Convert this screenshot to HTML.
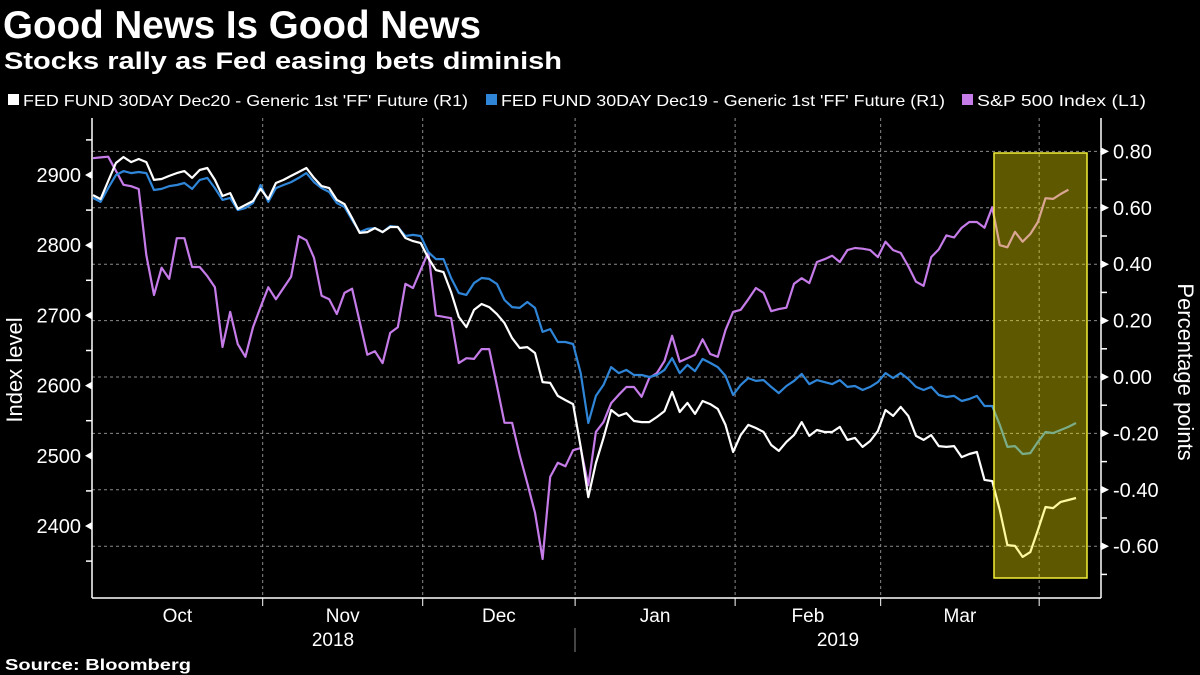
<!DOCTYPE html>
<html><head><meta charset="utf-8">
<style>
html,body{margin:0;padding:0;background:#000;}
svg{display:block;}
text{font-family:"Liberation Sans",sans-serif;fill:#fff;}
</style></head>
<body>
<svg id="chart" width="1200" height="675" viewBox="0 0 1200 675">
<rect width="1200" height="675" fill="#000"/>
<text x="3" y="38" font-size="39" font-weight="bold" textLength="478" lengthAdjust="spacingAndGlyphs">Good News Is Good News</text>
<text x="4" y="69" font-size="24" font-weight="bold" textLength="558" lengthAdjust="spacingAndGlyphs">Stocks rally as Fed easing bets diminish</text>
<g id="legend"></g>
<g id="grid"></g>
<g id="axes"></g>
<g id="series"></g>
<rect x="994" y="153" width="93" height="425" fill="rgba(255,242,0,0.37)" stroke="#f4f03a" stroke-width="1.5"/>
<text transform="translate(22,370) rotate(-90)" text-anchor="middle" font-size="22">Index level</text>
<text transform="translate(1178,372) rotate(90)" text-anchor="middle" font-size="22">Percentage points</text>
<text x="5" y="670" font-size="16" font-weight="bold" textLength="186" lengthAdjust="spacingAndGlyphs">Source: Bloomberg</text>
</svg>
<script>
const legendLabels = ["FED FUND 30DAY Dec20 - Generic 1st 'FF' Future (R1)", "FED FUND 30DAY Dec19 - Generic 1st 'FF' Future (R1)", "S&P 500 Index  (L1)"];
const leftTicks = [2400, 2500, 2600, 2700, 2800, 2900];
const rightTicks = [-0.6, -0.4, -0.2, 0, 0.2, 0.4, 0.6, 0.8];
const monthLabels = ["Oct", "Nov", "Dec", "Jan", "Feb", "Mar"];
const monthStarts = [0, 22.4, 43.4, 63.4, 84.4, 103.5, 124.3];
const yearLabels = ["2018", "2019"];
const spx = [2924,2925,2926,2906,2886,2884,2880,2786,2729,2768,2752,2810,2810,2769,2769,2756,2740,2655,2705,2659,2641,2683,2712,2740,2723,2739,2755,2813,2807,2782,2728,2723,2702,2732,2738,2691,2644,2649,2632,2675,2683,2745,2739,2765,2790,2700,2698,2696,2632,2639,2638,2652,2652,2600,2547,2547,2501,2461,2419,2353,2470,2490,2485,2508,2511,2458,2534,2548,2575,2587,2598,2598,2584,2611,2618,2635,2671,2634,2639,2644,2666,2645,2641,2679,2705,2708,2723,2739,2732,2706,2709,2711,2745,2753,2746,2776,2780,2785,2776,2793,2796,2795,2793,2783,2805,2793,2789,2770,2748,2742,2783,2794,2814,2811,2825,2833,2833,2825,2854,2800,2797,2819,2805,2816,2833,2867,2866,2873,2879];
const dec20 = [0.645,0.631,0.695,0.759,0.780,0.762,0.773,0.762,0.699,0.702,0.713,0.723,0.730,0.706,0.734,0.741,0.699,0.642,0.652,0.596,0.610,0.624,0.667,0.631,0.688,0.699,0.713,0.727,0.741,0.706,0.677,0.670,0.628,0.613,0.564,0.511,0.514,0.528,0.514,0.532,0.532,0.493,0.482,0.475,0.422,0.379,0.372,0.301,0.213,0.177,0.238,0.259,0.248,0.223,0.191,0.138,0.103,0.106,0.085,-0.018,-0.021,-0.067,-0.082,-0.096,-0.248,-0.426,-0.305,-0.216,-0.117,-0.138,-0.128,-0.156,-0.160,-0.160,-0.142,-0.121,-0.053,-0.124,-0.092,-0.131,-0.085,-0.096,-0.113,-0.170,-0.266,-0.206,-0.170,-0.181,-0.195,-0.241,-0.262,-0.230,-0.206,-0.160,-0.209,-0.188,-0.195,-0.195,-0.177,-0.223,-0.216,-0.248,-0.227,-0.191,-0.117,-0.138,-0.106,-0.138,-0.209,-0.223,-0.206,-0.245,-0.248,-0.245,-0.284,-0.273,-0.266,-0.365,-0.369,-0.472,-0.596,-0.599,-0.638,-0.621,-0.543,-0.461,-0.465,-0.443,-0.436,-0.429];
const dec19 = [0.635,0.621,0.670,0.716,0.730,0.723,0.727,0.723,0.663,0.667,0.677,0.681,0.688,0.667,0.699,0.706,0.670,0.628,0.635,0.592,0.599,0.617,0.681,0.621,0.670,0.681,0.691,0.706,0.723,0.691,0.670,0.656,0.617,0.603,0.557,0.514,0.525,0.528,0.514,0.535,0.532,0.500,0.504,0.500,0.443,0.418,0.418,0.351,0.298,0.291,0.333,0.351,0.348,0.330,0.273,0.248,0.245,0.266,0.245,0.160,0.170,0.124,0.124,0.117,0.014,-0.163,-0.067,-0.028,0.035,0.014,0.025,0.007,0.007,0.000,0.007,0.025,0.067,0.014,0.043,0.021,0.064,0.050,0.035,0.004,-0.064,-0.028,-0.004,-0.014,-0.011,-0.035,-0.057,-0.032,-0.014,0.011,-0.025,-0.011,-0.018,-0.025,-0.011,-0.035,-0.032,-0.046,-0.035,-0.018,0.014,-0.004,0.014,-0.007,-0.035,-0.046,-0.035,-0.064,-0.071,-0.067,-0.085,-0.078,-0.067,-0.103,-0.103,-0.170,-0.248,-0.245,-0.273,-0.270,-0.230,-0.195,-0.199,-0.188,-0.177,-0.163];

const NS = "http://www.w3.org/2000/svg";
const X0 = 93, DX = 7.62;
function xs(i){ return X0 + i*DX; }
function yl(v){ return 175 + (2900 - v)*0.702; }
function yr(v){ return 377 - v*282; }
function mk(tag, attrs, parent){ const e=document.createElementNS(NS,tag); for(const k in attrs) e.setAttribute(k,attrs[k]); parent.appendChild(e); return e; }

const grid=document.getElementById('grid'), axes=document.getElementById('axes'), series=document.getElementById('series'), legend=document.getElementById('legend');

rightTicks.forEach(function(t){
  const l=mk('line',{x1:92,x2:1101,y1:yr(t),y2:yr(t),stroke:'#8a8a8a','stroke-width':1,'stroke-dasharray':'3,3'},grid);
  
  
  const tk=mk('path',{d:'M1101 '+(yr(t)-4)+' L1109 '+yr(t)+' L1101 '+(yr(t)+4)+'Z',fill:'#fff'},axes);
  
  
  const lb=mk('text',{x:1113,y:yr(t)+7,'font-size':20},axes);
  lb.textContent=(t<0?'-':'')+Math.abs(t).toFixed(2);
  
  
});
for(let t=-0.7;t<=0.71;t+=0.2){
  const m=mk('line',{x1:1101,x2:1107,y1:yr(t),y2:yr(t),stroke:'#fff','stroke-width':1.5},axes);
  
  
}
leftTicks.forEach(function(t){
  const tk=mk('path',{d:'M92 '+(yl(t)-4)+' L85 '+yl(t)+' L92 '+(yl(t)+4)+'Z',fill:'#fff'},axes);
  
  
  const lb=mk('text',{x:81,y:yl(t)+7,'font-size':20,'text-anchor':'end'},axes);
  lb.textContent=t;
  
  
});
for(let t=2350;t<=2950;t+=100){
  if(yl(t)<120||yl(t)>598) continue;
  const m=mk('line',{x1:86,x2:92,y1:yl(t),y2:yl(t),stroke:'#fff','stroke-width':1.5},axes);
  
  
}
monthStarts.forEach(function(s,i){
  const x=xs(s)-1;
  if(i>0){
    const g=mk('line',{x1:x,x2:x,y1:118,y2:598,stroke:'#8a8a8a','stroke-width':1,'stroke-dasharray':'3,3'},grid);
    
    
    const t=mk('line',{x1:x,x2:x,y1:598,y2:606,stroke:'#fff','stroke-width':1},axes);
    
    
  }
  if(i<monthLabels.length){
    const lb=mk('text',{x:(xs(s)+xs(monthStarts[i+1]))/2-1,y:622,'font-size':19,'text-anchor':'middle'},axes);
    lb.textContent=monthLabels[i];
    
    
  }
});
const y18=mk('text',{x:333,y:646,'font-size':19,'text-anchor':'middle'},axes); y18.textContent=yearLabels[0];


const y19=mk('text',{x:838,y:646,'font-size':19,'text-anchor':'middle'},axes); y19.textContent=yearLabels[1];


const ysep=mk('line',{x1:575,x2:575,y1:628,y2:652,stroke:'#888','stroke-width':1},axes);


const la=mk('line',{x1:92,x2:92,y1:118,y2:598,stroke:'#fff','stroke-width':1.5},axes);


const ra=mk('line',{x1:1101,x2:1101,y1:118,y2:598,stroke:'#fff','stroke-width':1.5},axes);


const ba=mk('line',{x1:92,x2:1101,y1:598,y2:598,stroke:'#fff','stroke-width':1.5},axes);



function line(vals, yf, color, name){
  const p=vals.map(function(v,i){return (i?'L':'M')+xs(i).toFixed(1)+' '+yf(v).toFixed(1);}).join(' ');
  const e=mk('path',{d:p,fill:'none',stroke:color,'stroke-width':2.2,'stroke-linejoin':'round'},series);
  
  
}
line(spx, yl, '#c57be8', 'sp500-line');
line(dec19, yr, '#2f86d8', 'dec19-line');
line(dec20, yr, '#ffffff', 'dec20-line');

const lcol=['#ffffff','#2f86d8','#c57be8'];
const lx=[8,486,962];
const lw=[445,444,169];
legendLabels.forEach(function(s,i){
  const sq=mk('rect',{x:lx[i],y:94,width:11,height:11,fill:lcol[i]},legend);
  
  
  const t=mk('text',{x:lx[i]+15,y:106,'font-size':16,textLength:lw[i],lengthAdjust:'spacingAndGlyphs'},legend);
  t.textContent=s;
  
  
});
</script>
</body></html>
